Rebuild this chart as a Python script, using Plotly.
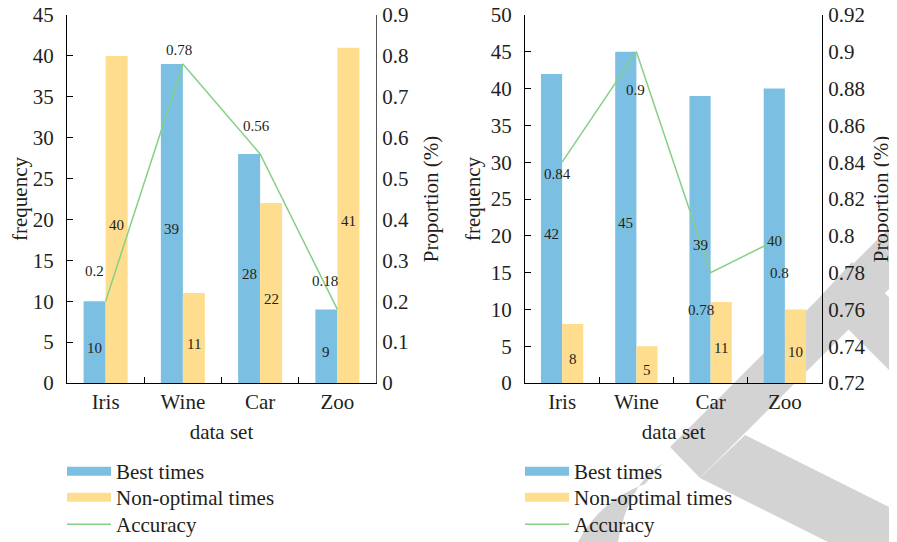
import plotly.graph_objects as go

# ---------------- data ----------------
categories = ["Iris", "Wine", "Car", "Zoo"]

left_best = [10, 39, 28, 9]
left_nonopt = [40, 11, 22, 41]
left_acc = [0.2, 0.78, 0.56, 0.18]

right_best = [42, 45, 39, 40]
right_nonopt = [8, 5, 11, 10]
right_acc = [0.84, 0.9, 0.78, 0.8]

series_names = ["Best times", "Non-optimal times", "Accuracy"]

# ---------------- style ----------------
OFF = 8                      # page body margin of the browser
W, H = 897 - OFF, 542 - OFF
ML, MR, MT, MB = 67 - OFF, 75, 15 - OFF, 159
PW, PH = W - ML - MR, H - MT - MB

BLUE = "#7bbfe3"
YELLOW = "#fede8e"
GREEN = "#86cf86"
TXT = "#231f20"
FONT = "Liberation Serif"
WM = "#d3d3d3"

# label offsets (pixels) for accuracy labels
left_lbl_shift = [(-11, 30), (-4, 14), (-4, 28), (-12, 28)]
right_lbl_shift = [(-5, -12), (-1, -38), (-10, -37), (-5, -37)]
BAR_HALF = [11, 10.6]        # half bar width in px (left, right chart)
BAR_LBL_DY = -5.5


# reference-picture pixel -> paper coordinates
def px(x):
    return (x - OFF - ML) / PW


def py(y):
    return (MT + PH - (y - OFF)) / PH


def path(pts, close=True):
    s = "M " + " L ".join(f"{px(x):.4f},{py(y):.4f}" for x, y in pts)
    return s + (" Z" if close else "")


fig = go.Figure()


def bar(xs, ys, nm, col, xa, ya, og):
    return go.Bar(x=xs, y=ys, name=nm, marker=dict(color=col, line=dict(width=0)),
                  textposition="none", showlegend=False, xaxis=xa, yaxis=ya, offsetgroup=og)


fig.add_trace(bar(categories, left_best, series_names[0], BLUE, "x", "y", "a"))
fig.add_trace(bar(categories, left_nonopt, series_names[1], YELLOW, "x", "y", "b"))
fig.add_trace(go.Scatter(x=categories, y=left_acc, name=series_names[2], mode="lines",
                         line=dict(color=GREEN, width=1.5), showlegend=False, xaxis="x", yaxis="y2"))

fig.add_trace(bar(categories, right_best, series_names[0], BLUE, "x2", "y3", "a"))
fig.add_trace(bar(categories, right_nonopt, series_names[1], YELLOW, "x2", "y3", "b"))
fig.add_trace(go.Scatter(x=categories, y=right_acc, name=series_names[2], mode="lines",
                         line=dict(color=GREEN, width=1.5), showlegend=False, xaxis="x2", yaxis="y4"))

# legend entries: one legend per entry so spacing matches
legend_names = ["legend", "legend2", "legend3", "legend4", "legend5", "legend6"]
legend_layout = {}
item_tops = [451, 477, 504]
k = 0
for xa, ya, lx in [("x", "y", 62), ("x2", "y3", 520)]:
    for i, (nm, col, wd) in enumerate([(series_names[0], BLUE, 9), (series_names[1], YELLOW, 9),
                                       (series_names[2], GREEN, 1.5)]):
        lg = legend_names[k]
        fig.add_trace(go.Scatter(x=[None], y=[None], mode="lines", name=nm, line=dict(color=col, width=wd),
                                 legend=lg, xaxis=xa, yaxis=ya, hoverinfo="skip"))
        legend_layout[lg] = dict(x=px(lx), y=py(item_tops[i]), xanchor="left", yanchor="top",
                                 font=dict(size=21, color=TXT, family=FONT), itemwidth=44,
                                 bgcolor="rgba(0,0,0,0)")
        k += 1

ann = []
# bar value labels
for half, xref, yref, best, nonopt in [(BAR_HALF[0], "x", "y", left_best, left_nonopt),
                                       (BAR_HALF[1], "x2", "y3", right_best, right_nonopt)]:
    for vals, sgn in [(best, -1), (nonopt, 1)]:
        for c, v in zip(categories, vals):
            ann.append(dict(x=c, y=v / 2, xref=xref, yref=yref, text=str(v), showarrow=False,
                            xshift=sgn * half, yshift=BAR_LBL_DY, font=dict(size=15, color=TXT, family=FONT)))

# accuracy labels
for vals, shifts, yref, xref in [(left_acc, left_lbl_shift, "y2", "x"),
                                 (right_acc, right_lbl_shift, "y4", "x2")]:
    for c, v, (dx, dy) in zip(categories, vals, shifts):
        ann.append(dict(x=c, y=v, xref=xref, yref=yref, text=f"{v:g}", showarrow=False,
                        xshift=dx, yshift=dy, font=dict(size=15, color=TXT, family=FONT)))

# watermark
shapes = [
    dict(type="path", path=path([(670, 447), (700, 478), (897, 281), (897, 220)])),
    dict(type="path", path=path([(818, 299), (897, 378), (897, 305), (852, 262)])),
    dict(type="path", path=path([(700, 478), (745, 435), (897, 511), (897, 542), (828, 542)])),
    dict(type="path", path=(f"M {px(578):.4f},{py(542):.4f} Q {px(600):.4f},{py(500):.4f} {px(645):.4f},{py(484):.4f} "
                            f"L {px(663):.4f},{py(463):.4f} Q {px(628):.4f},{py(485):.4f} {px(618):.4f},{py(542):.4f} Z")),
]
for s in shapes:
    s.update(xref="paper", yref="paper", fillcolor=WM, line=dict(width=0), layer="below")

tickfont = dict(size=21, color=TXT, family=FONT)
titlefont = dict(size=21, color=TXT, family=FONT)

xcommon = dict(type="category", showline=True, linecolor="black", linewidth=1.3, ticks="inside", ticklen=6,
               tickcolor="black", tickson="boundaries", showgrid=False, tickfont=tickfont, zeroline=False,
               title=dict(text="data set", font=titlefont, standoff=10))


def yl(standoff):
    return dict(showline=True, linecolor="black", linewidth=1.3, ticks="inside", ticklen=6, tickcolor="black",
                showgrid=False, zeroline=False, tickfont=tickfont, ticklabelstandoff=8,
                ticklabeloverflow="allow",
                title=dict(text="frequency", font=titlefont, standoff=standoff))


def yr(color, standoff):
    return dict(showline=True, linewidth=1.3, linecolor=color, ticks="", showgrid=False, zeroline=False,
                tickfont=tickfont, side="right", ticklabelstandoff=1, ticklabeloverflow="allow",
                title=dict(text="Proportion (%)", font=titlefont, standoff=standoff))


fig.update_layout(
    width=W, height=H,
    margin=dict(l=ML, r=MR, t=MT, b=MB, autoexpand=False),
    paper_bgcolor="white", plot_bgcolor="rgba(0,0,0,0)",
    barmode="group", bargap=0.43, bargroupgap=0,
    font=dict(family=FONT, color=TXT),
    xaxis=dict(domain=[0, px(376)], anchor="y", **xcommon),
    xaxis2=dict(domain=[px(525), 1], anchor="y3", **xcommon),
    yaxis=dict(domain=[0, 1], anchor="x", range=[0, 45], dtick=5, **yl(8)),
    yaxis2=dict(anchor="x", overlaying="y", range=[0, 0.9], dtick=0.1, **yr("#555555", 15)),
    yaxis3=dict(domain=[0, 1], anchor="x2", range=[0, 50], dtick=5, **yl(4)),
    yaxis4=dict(anchor="x2", overlaying="y3", range=[0.72, 0.92], dtick=0.02, **yr("black", 8)),
    annotations=ann,
    shapes=shapes,
    **legend_layout,
)

fig.write_html("out.html")
